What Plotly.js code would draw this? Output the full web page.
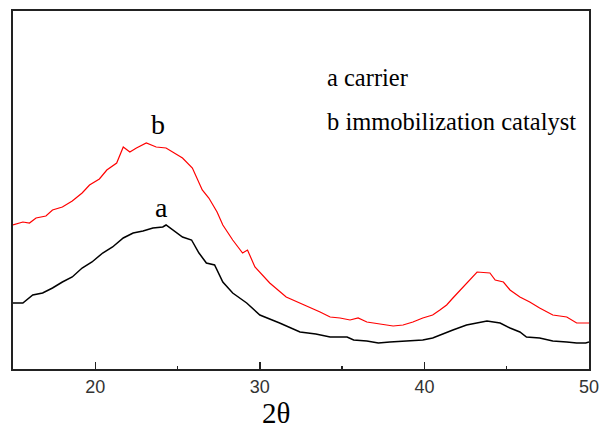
<!DOCTYPE html>
<html>
<head>
<meta charset="utf-8">
<script src="https://cdn.plot.ly/plotly-3.0.1.min.js"></script>
<style>html,body{margin:0;padding:0;background:#fff;}#chart{width:602px;height:432px;}</style>
</head>
<body>
<div id="chart"></div>
<script>
// 2θ positions and relative intensities (a.u.)
const carrierX = [15.0,15.6,16.2,16.8,17.4,18.0,18.6,19.2,19.8,20.45,21.05,21.7,22.3,22.9,23.5,24.1,24.3,24.7,25.3,25.85,26.3,26.75,27.25,27.75,28.35,29.2,30.0,31.2,32.44,33.4,34.27,35.3,35.7,36.5,37.2,37.9,39.1,39.9,40.5,40.94,41.35,41.73,42.56,43.37,43.8,44.6,45.2,45.8,46.2,47.0,47.8,48.65,49.25,49.8,50.0];
const carrierY = [66,66,74,76,81,87,92,101,107,116,122,131,136,138,141,142,144,139,132,129,116,106,104,87,76,66,54,46,37,35,32,32,29,28,26,27,28,29,31,34,36,39,44,47,48,46,41,37,32,31,28,27,26,26,27];

const catalystX = [15.0,15.6,16.0,16.4,17.0,17.4,18.0,18.6,19.2,19.65,20.25,20.7,21.3,21.7,22.1,22.5,23.1,23.7,24.3,24.7,25.3,25.9,26.5,26.9,27.4,27.75,28.35,28.95,29.25,29.7,30.6,31.6,32.44,33.05,33.66,34.27,34.87,35.48,35.97,36.5,37.3,38.1,38.7,39.3,39.9,40.5,40.94,41.35,41.73,42.3,42.9,43.2,43.98,44.3,44.8,45.2,45.8,46.4,47.0,47.8,48.65,49.25,50.0];
const catalystY = [144,147,146,151,153,159,162,168,176,184,190,199,206,222,217,221,226,222,221,217,211,201,179,171,157,144,129,116,119,102,86,72,66,62,57,52,51,49,51,47,45,43,44,47,51,54,59,64,71,81,91,97,96,89,87,79,72,67,61,54,52,46,46];

const tickVals = [20, 30, 40, 50];
const tickText = ["20", "30", "40", "50"];
const curveLabels = ["a", "b"];
const legendLines = ["a carrier", "b immobilization catalyst"];
const xTitle = "2θ";

const traces = [
  {x: carrierX, y: carrierY, type: "scatter", mode: "lines", name: "a carrier",
   line: {color: "#000000", width: 1.5}},
  {x: catalystX, y: catalystY, type: "scatter", mode: "lines", name: "b immobilization catalyst",
   line: {color: "#ff0000", width: 1.2}}
];

const serif = "Liberation Serif, Times New Roman, serif";

const layout = {
  width: 602, height: 432,
  margin: {l: 13, r: 13, t: 11, b: 63},
  paper_bgcolor: "#ffffff", plot_bgcolor: "#ffffff",
  showlegend: false,
  xaxis: {
    range: [15, 50], tickvals: tickVals, ticktext: tickText,
    ticks: "inside", ticklen: 7, tickwidth: 1.5, tickcolor: "#222",
    minor: {dtick: 5, tick0: 0, ticks: "inside", ticklen: 3, tickwidth: 1.5, tickcolor: "#222", showgrid: false},
    showline: true, linewidth: 2, linecolor: "#222", mirror: true,
    showgrid: false, zeroline: false,
    tickfont: {family: "Liberation Sans, Arial, sans-serif", size: 18, color: "#333"}
  },
  yaxis: {
    range: [0, 358], showticklabels: false, ticks: "",
    showline: true, linewidth: 2, linecolor: "#222", mirror: true,
    showgrid: false, zeroline: false
  },
  annotations: [
    {x: 23.8, y: 245, xref: "x", yref: "y", text: curveLabels[1], showarrow: false,
     font: {family: serif, size: 28, color: "#000"}},
    {x: 24.0, y: 162, xref: "x", yref: "y", text: curveLabels[0], showarrow: false,
     font: {family: serif, size: 28, color: "#000"}},
    {x: 0.5417, y: 0.8156, xref: "paper", yref: "paper", xanchor: "left", yanchor: "middle",
     text: legendLines[0], showarrow: false, font: {family: serif, size: 24.5, color: "#000"}},
    {x: 0.5417, y: 0.6927, xref: "paper", yref: "paper", xanchor: "left", yanchor: "middle",
     text: legendLines[1], showarrow: false, font: {family: serif, size: 24.5, color: "#000"}},
    {x: 0.4566, y: -0.1229, xref: "paper", yref: "paper", xanchor: "center", yanchor: "middle",
     text: xTitle, showarrow: false, font: {family: serif, size: 29, color: "#000"}}
  ]
};

Plotly.newPlot("chart", traces, layout, {displayModeBar: false, staticPlot: true});
</script>
</body>
</html>
